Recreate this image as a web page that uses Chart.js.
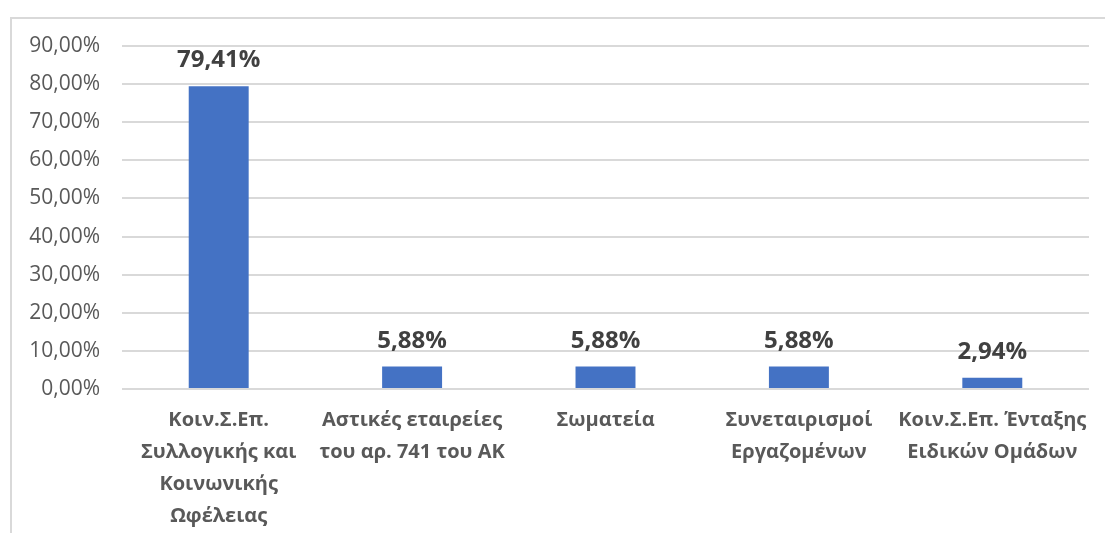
<!DOCTYPE html>
<html>
<head>
<meta charset="utf-8">
<script src="https://cdn.jsdelivr.net/npm/chart.js@4/dist/chart.umd.min.js"></script>
<style>
  body { margin: 0; background: #fff; }
  #frame { position: absolute; left: 10px; top: 17px; right: 0; bottom: 0;
           border-top: 2px solid #d9d9d9; border-left: 2px solid #d9d9d9; }
  #wrap { position: absolute; left: 0; top: 0; width: 1105px; height: 533px; }
</style>
</head>
<body>
<div id="frame"></div>
<div id="wrap"><canvas id="chart"></canvas></div>
<script>
// -------------------------------
// DATA
// -------------------------------
const categories = [
  ["Κοιν.Σ.Επ.", "Συλλογικής και", "Κοινωνικής", "Ωφέλειας"],
  ["Αστικές εταιρείες", "του αρ. 741 του ΑΚ"],
  ["Σωματεία"],
  ["Συνεταιρισμοί", "Εργαζομένων"],
  ["Κοιν.Σ.Επ. Ένταξης", "Ειδικών Ομάδων"]
];
const shares = [79.41, 5.88, 5.88, 5.88, 2.94];
const yTicks = [0, 10, 20, 30, 40, 50, 60, 70, 80, 90];

const FONT = "'Open Sans', 'Noto Sans', sans-serif";

function pct(v) {
  return Number(v).toFixed(2).replace(".", ",") + "%";
}

// -------------------------------
// DATA LABELS
// -------------------------------
const valueLabels = {
  id: "valueLabels",
  afterDatasetsDraw(chart) {
    const ctx = chart.ctx;
    const meta = chart.getDatasetMeta(0);
    ctx.save();
    ctx.font = "bold 24px " + FONT;
    ctx.fillStyle = "#404040";
    ctx.textAlign = "center";
    ctx.textBaseline = "alphabetic";
    meta.data.forEach((bar, i) => {
      ctx.fillText(pct(shares[i]), bar.x, bar.y - 19);
    });
    ctx.restore();
  }
};

// -------------------------------
// RENDER
// -------------------------------
new Chart(document.getElementById("chart"), {
  type: "bar",
  data: {
    labels: categories,
    datasets: [{
      data: shares,
      backgroundColor: "#4472C4",
      barPercentage: 0.31,
      categoryPercentage: 1
    }]
  },
  options: {
    responsive: true,
    maintainAspectRatio: false,
    animation: false,
    layout: { padding: { top: 46, right: 16, left: 0, bottom: 0 } },
    plugins: {
      legend: { display: false },
      tooltip: { enabled: false }
    },
    scales: {
      x: {
        grid: { display: false, drawTicks: false },
        border: { display: false },
        ticks: {
          color: "#595959",
          padding: 15,
          maxRotation: 0,
          autoSkip: false,
          font: { family: FONT, size: 20, weight: "bold", lineHeight: 1.6 }
        },
        afterFit(scale) { scale.height = 144; }
      },
      y: {
        min: 0,
        max: 90,
        afterBuildTicks(scale) { scale.ticks = yTicks.map(v => ({ value: v })); },
        grid: { color: "#d9d9d9", lineWidth: 2, drawTicks: false },
        border: { display: false },
        ticks: {
          color: "#595959",
          padding: 22,
          font: { family: FONT, size: 21 },
          callback: v => pct(v)
        },
        afterFit(scale) { scale.width = 122; }
      }
    }
  },
  plugins: [valueLabels]
});
</script>
</body>
</html>
